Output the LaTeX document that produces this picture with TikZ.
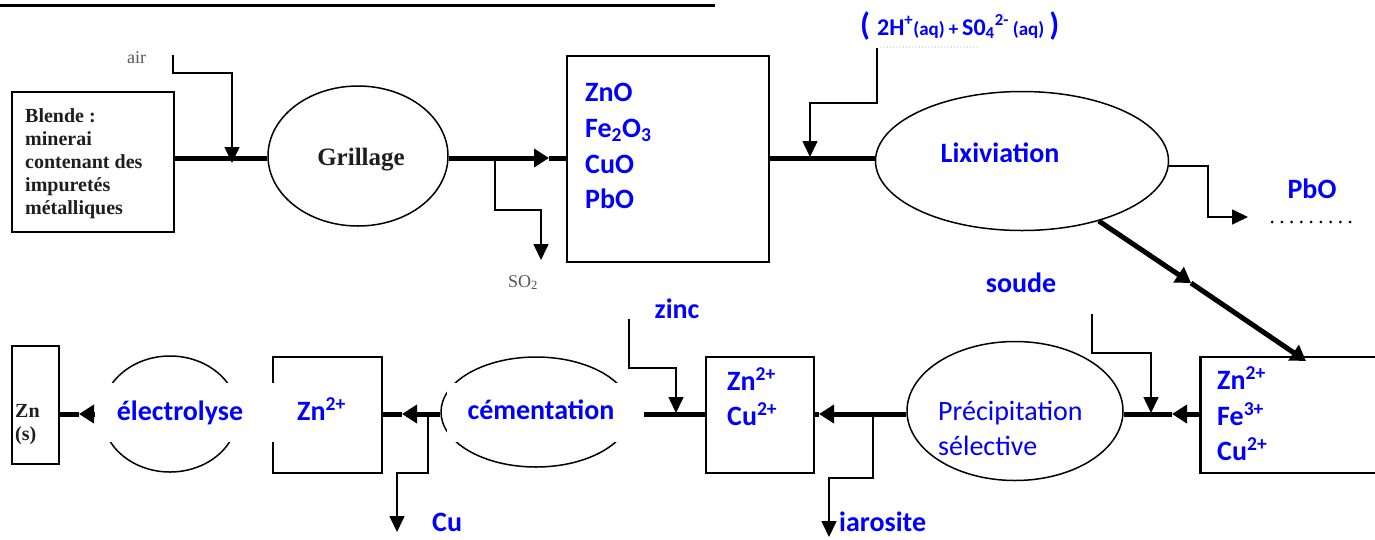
\documentclass[tikz,border=0pt]{standalone}
\usepackage{fontspec}
\setmainfont{Liberation Serif}
\newfontfamily\calfont{Carlito}
\usetikzlibrary{arrows.meta,shapes.geometric}
\definecolor{pblue}{RGB}{0,0,255}
\definecolor{sgray}{RGB}{85,85,85}
\definecolor{sdark}{RGB}{30,30,30}
\begin{document}
\begin{tikzpicture}[x=1pt,y=-1pt,
  thinline/.style={line width=1.6pt},
  flow/.style={line width=5pt},
  boxst/.style={draw, line width=2.6pt, inner sep=0pt},
  ellst/.style={draw, ellipse, line width=1.5pt, inner sep=0pt},
  bb/.style={text=pblue, font=\calfont\bfseries\fontsize{28}{34}\selectfont, inner sep=0pt, anchor=base west},
  br/.style={text=pblue, font=\calfont\fontsize{28}{34}\selectfont, inner sep=0pt, anchor=base west},
  sb/.style={text=sdark, font=\bfseries\fontsize{20}{23}\selectfont, inner sep=0pt, anchor=base west},
  sg/.style={text=sgray, font=\fontsize{18}{20}\selectfont, inner sep=0pt, anchor=base west},
  whiteout/.style={fill=white, inner sep=0pt},
  tipA/.tip={Triangle[length=16pt,width=15pt]},
  tipB/.tip={Triangle[length=15pt,width=18pt]},
]
\useasboundingbox (0,0) rectangle (1375,539);

% title underline (title text itself is cut off)
\draw[line width=3pt] (0,5.5) -- (715,5.5);

% ---------- shapes ----------
\node[boxst, minimum width=162, minimum height=140] (blende) at (93,162) {};
\node[ellst, minimum width=180, minimum height=140] (grill) at (358,156) {};
\node[boxst, minimum width=202, minimum height=206] (ox) at (668,159) {};
\node[ellst, minimum width=293, minimum height=139] (lixi) at (1022,161) {};
\node[boxst, minimum width=215, minimum height=116, anchor=west] (b3) at (1199,415) {};
\node[ellst, minimum width=216, minimum height=139] (preci) at (1015,411) {};
\node[boxst, minimum width=108, minimum height=116] (b4) at (760,415) {};
\node[ellst, minimum width=190, minimum height=110] (cem) at (536,412) {};
\node[boxst, minimum width=109, minimum height=116] (b5) at (327.5,415) {};
\node[ellst, minimum width=136, minimum height=116] (elec) at (170,414) {};
\node[boxst, minimum width=47, minimum height=118] (zns) at (35.5,405) {};

\coordinate (rowA) at (0,158);
\coordinate (rowB) at (0,414);

% ---------- main flow (thick) ----------
\coordinate (t1) at (549,158);
\draw[flow] (blende.east |- rowA) -- (grill.west |- rowA);
\draw[flow,-tipB] (grill.east |- rowA) -- (t1);
\draw[flow] (t1) -- (ox.west |- rowA);
\draw[flow] (ox.east |- rowA) -- (lixi.west |- rowA);

\coordinate (dm) at (1191,283);
\coordinate (d2) at (1306,361);
\draw[flow,-tipB] (lixi.-38) -- (dm);
\draw[flow,-tipB] (dm) -- (d2);

\coordinate (t2) at (1172,414);
\coordinate (t3) at (819,414);
\coordinate (t4) at (402,414);
\coordinate (t5) at (79,414);
\draw[flow,-tipB] (b3.west |- rowB) -- (t2);
\draw[flow] (t2) -- (preci.east |- rowB);
\draw[flow,-tipB] (preci.west |- rowB) -- (t3);
\draw[flow] (t3) -- (b4.east |- rowB);
\draw[flow] (b4.west |- rowB) -- (cem.east |- rowB);
\draw[flow,-tipB] (cem.west |- rowB) -- (t4);
\draw[flow] (t4) -- (b5.east |- rowB);
\draw[flow,-tipB] (elec.west |- rowB) -- (t5);
\draw[flow] (t5) -- (zns.east |- rowB);

% ---------- side streams (thin) ----------
\coordinate (airS) at (173,55);
\coordinate (airT) at (232,163);
\draw[thinline,-tipA] (airS) -- ++(0,18) -| (airT);

\coordinate (so2B) at (495,158);
\coordinate (so2T) at (541,260);
\draw[thinline,-tipA] (so2B) -- ++(0,52) -| (so2T);

\coordinate (acS) at (877,48);
\coordinate (acT) at (810,157);
\draw[thinline,-tipA] (acS) -- ++(0,55) -| (acT);

\coordinate (pbT) at (1248,217);
\draw[thinline,-tipA] (lixi.-2) -| ([xshift=-40pt]pbT) -- (pbT);

\coordinate (soS) at (1092,314);
\coordinate (soT) at (1151,413);
\draw[thinline,-tipA] (soS) -- ++(0,39) -| (soT);

\coordinate (znS) at (629,319);
\coordinate (znT) at (676,413);
\draw[thinline,-tipA] (znS) -- ++(0,49) -| (znT);

\coordinate (iaB) at (873,414);
\coordinate (iaT) at (829,537);
\draw[thinline,-tipA] (iaB) -- ++(0,64) -| (iaT);

\coordinate (cuB) at (428,414);
\coordinate (cuT) at (397,532);
\draw[thinline,-tipA] (cuB) -- ++(0,59) -| (cuT);

% dotted lines
\draw[gray, line width=1pt, line cap=round, dash pattern=on 0pt off 3.2pt] (881,47) -- (978,47);
\draw[line width=3pt, line cap=round, dash pattern=on 0pt off 9.75pt] (1272,222) -- (1351,222);

% ---------- white-outs ----------
\node[whiteout, minimum width=183, minimum height=59] (elecw) at (186.5,412.5) {};
\node[whiteout, minimum width=197, minimum height=59] (cemw) at (545.5,412.5) {};

% ---------- texts ----------
\node[sb] (bl1) at (25,122) {Blende :};
\node[sb] (bl2) at (25,145) {minerai};
\node[sb] (bl3) at (25,168) {contenant des};
\node[sb] (bl4) at (25,191) {impuretés};
\node[sb] (bl5) at (25,214) {métalliques};
\node[text=sdark, font=\bfseries\fontsize{25}{30}\selectfont, inner sep=0pt, anchor=base] (grillt) at (361,165) {Grillage};
\node[sg] (airl) at (127,63) {air};
\node[sg] (so2l) at (508,287) {SO\textsubscript{2}};

\node[bb] (o1) at (585,101) {ZnO};
\node[bb] (o2) at (585,137) {Fe\textsubscript{2}O\textsubscript{3}};
\node[bb] (o3) at (585,173) {CuO};
\node[bb] (o4) at (585,208) {PbO};

\node[bb, anchor=base] (lixit) at (1000,162) {Lixiviation};
\node[text=pblue, font=\calfont\bfseries, anchor=base west, inner sep=0pt] (acid) at (860,35)
  {{\fontsize{32}{34}\selectfont(}\hspace{7pt}{\fontsize{24}{26}\selectfont 2H\textsuperscript{+}}{\fontsize{19}{20}\selectfont(aq)\hspace{4pt}+\hspace{4pt}}{\fontsize{24}{26}\selectfont S0\textsubscript{4}\textsuperscript{2-}}\hspace{4pt}{\fontsize{19}{20}\selectfont(aq)}\hspace{5pt}{\fontsize{32}{34}\selectfont)}};
\node[bb, anchor=base] (pbl) at (1312,198) {PbO};

\node[bb, anchor=base] (soude) at (1021,292) {soude};
\node[bb] (c31) at (1217,389) {Zn\textsuperscript{2+}};
\node[bb] (c32) at (1217,425) {Fe\textsuperscript{3+}};
\node[bb] (c33) at (1217,460) {Cu\textsuperscript{2+}};

\node[br] (pr1) at (938,420) {Précipitation};
\node[br] (pr2) at (938,455) {sélective};

\node[bb, anchor=base] (zinc) at (677,318) {zinc};
\node[bb] (c41) at (727,390) {Zn\textsuperscript{2+}};
\node[bb] (c42) at (727,425) {Cu\textsuperscript{2+}};

\node[bb, anchor=base] (cemt) at (541,419) {cémentation};
\node[bb] (c51) at (297,420) {Zn\textsuperscript{2+}};
\node[bb, anchor=base] (elect) at (180,420) {électrolyse};

\node[bb] (cul) at (432,531) {Cu};
\node[bb] (ial) at (839,531) {iarosite};

\node[text=sdark, font=\bfseries\fontsize{20}{22}\selectfont, inner sep=0pt, anchor=base west] (zn1) at (15,417) {Zn};
\node[text=sdark, font=\bfseries\fontsize{20}{22}\selectfont, inner sep=0pt, anchor=base west] (zn2) at (15,440) {(s)};
\end{tikzpicture}
\end{document}
